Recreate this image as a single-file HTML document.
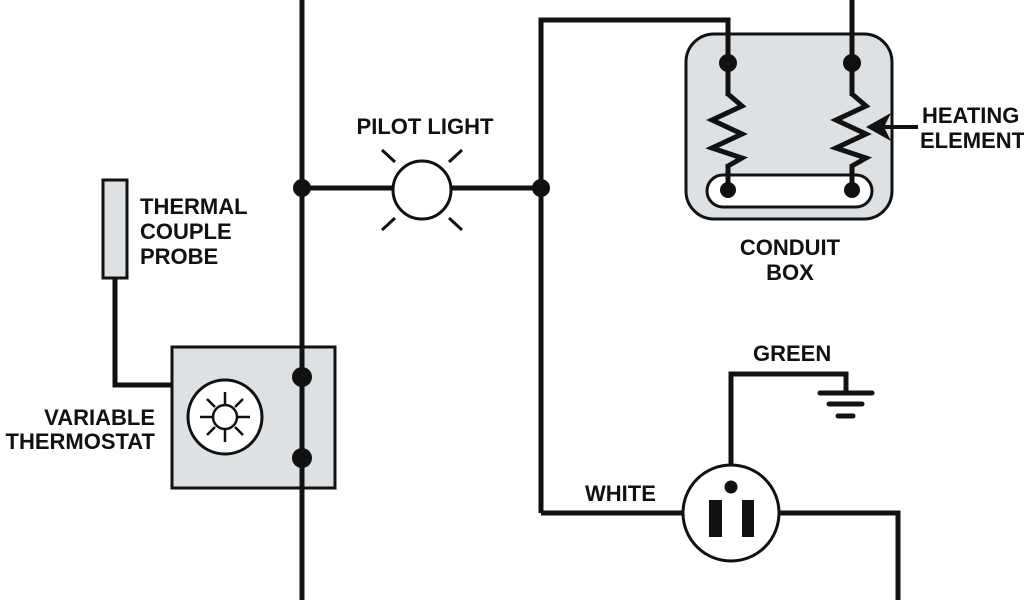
<!DOCTYPE html>
<html><head><meta charset="utf-8"><style>
html,body{margin:0;padding:0;background:#fff;width:1024px;height:600px;overflow:hidden}
text{font-family:"Liberation Sans",sans-serif;font-weight:bold;font-size:22px;fill:#111}
</style></head><body>
<svg width="1024" height="600" viewBox="0 0 1024 600" xmlns="http://www.w3.org/2000/svg">
<g stroke="#111" fill="none" stroke-width="5" stroke-linejoin="miter">
<!-- conduit box -->
<rect x="686" y="34" width="206" height="185" rx="28" fill="#dde1e4" stroke-width="3"/>
<rect x="707" y="175" width="165" height="32" rx="16" fill="#fff" stroke-width="3"/>
<!-- thermostat -->
<rect x="172" y="347" width="163" height="141" fill="#dde1e4" stroke-width="3"/>
<circle cx="225" cy="417" r="37" fill="#fff" stroke-width="3"/>
<circle cx="225" cy="417" r="12" fill="#fff" stroke-width="2.5"/>
<g stroke-width="2.5">
<line x1="225" y1="392" x2="225" y2="405"/><line x1="225" y1="429" x2="225" y2="442"/>
<line x1="200" y1="417" x2="213" y2="417"/><line x1="237" y1="417" x2="250" y2="417"/>
<line x1="207" y1="399" x2="215" y2="407"/><line x1="235" y1="427" x2="243" y2="435"/>
<line x1="243" y1="399" x2="235" y2="407"/><line x1="207" y1="435" x2="215" y2="427"/>
</g>
<!-- probe -->
<rect x="103" y="180" width="24" height="98" fill="#dde1e4" stroke-width="3"/>
<polyline points="115,278 115,385 172,385"/>
<!-- main vertical -->
<line x1="302" y1="0" x2="302" y2="600"/>
<line x1="302" y1="188" x2="393" y2="188"/>
<line x1="451" y1="188" x2="541" y2="188"/>
<circle cx="422" cy="190" r="29" fill="#fff" stroke-width="3"/>
<g stroke-width="3">
<line x1="382" y1="150" x2="395" y2="162"/><line x1="462" y1="150" x2="449" y2="162"/>
<line x1="382" y1="230" x2="395" y2="218"/><line x1="462" y1="230" x2="449" y2="218"/>
</g>
<polyline points="541,513 541,20 728,20 728,96"/>
<line x1="852" y1="0" x2="852" y2="96"/>
<line x1="728" y1="164" x2="728" y2="190"/>
<line x1="852" y1="164" x2="852" y2="190"/>
<!-- zigzags -->
<polyline points="728,94 742,106 712,120 742,134 712,148 742,158 728,166"/>
<polyline points="852,94 866,106 836,120 866,134 836,148 866,158 852,166"/>
<!-- arrow -->
<line x1="880" y1="127" x2="918" y2="127" stroke-width="4"/>
<!-- outlet -->
<line x1="541" y1="513" x2="683" y2="513"/>
<polyline points="779,513 898,513 898,600"/>
<polyline points="731,465 731,374 846,374 846,392"/>
<circle cx="731" cy="513" r="48" fill="#fff" stroke-width="3"/>
<g stroke-width="5" stroke-linecap="round">
<line x1="820" y1="393" x2="872" y2="393"/>
<line x1="829" y1="404" x2="862" y2="404"/>
<line x1="838" y1="416" x2="853" y2="416"/>
</g>
</g>
<g fill="#111">
<polygon points="866,127 891,113 884,127 891,141"/>
<circle cx="302" cy="188" r="9"/><circle cx="541" cy="188" r="9"/>
<circle cx="302" cy="377" r="10"/><circle cx="302" cy="458" r="10"/>
<circle cx="728" cy="63" r="9"/><circle cx="852" cy="63" r="9"/>
<circle cx="728" cy="190" r="8"/><circle cx="852" cy="190" r="8"/>
<circle cx="731" cy="487" r="6.5"/>
<rect x="709" y="500" width="13" height="37"/><rect x="742" y="500" width="12" height="37"/>
</g>
<text x="425" y="134" text-anchor="middle">PILOT LIGHT</text>
<text x="140" y="214">THERMAL</text>
<text x="140" y="239">COUPLE</text>
<text x="140" y="264">PROBE</text>
<text x="155" y="425" text-anchor="end">VARIABLE</text>
<text x="155" y="449" text-anchor="end">THERMOSTAT</text>
<text x="790" y="255" text-anchor="middle">CONDUIT</text>
<text x="790" y="280" text-anchor="middle">BOX</text>
<text x="922" y="123">HEATING</text>
<text x="920" y="148">ELEMENT</text>
<text x="753" y="361">GREEN</text>
<text x="585" y="501">WHITE</text>
</svg>
</body></html>
